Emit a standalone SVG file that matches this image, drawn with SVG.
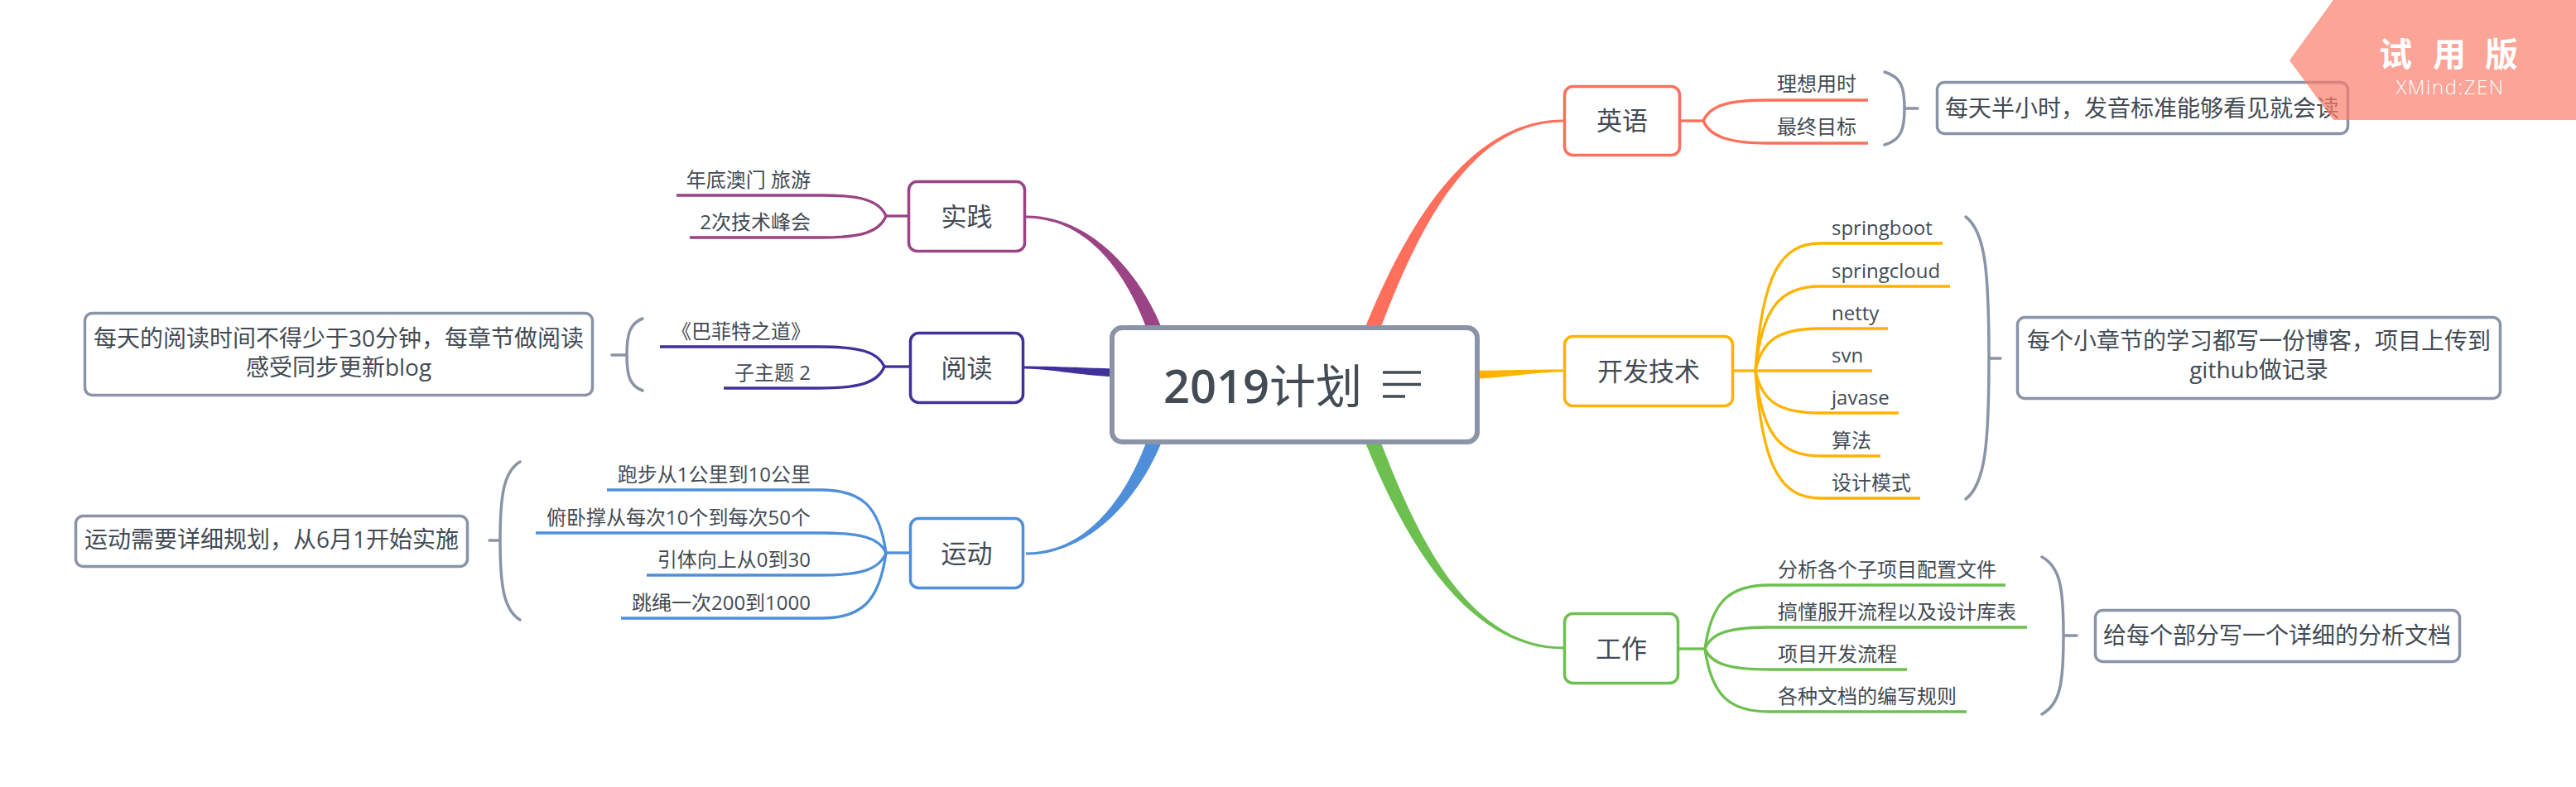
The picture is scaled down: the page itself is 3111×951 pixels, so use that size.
<svg xmlns="http://www.w3.org/2000/svg" width="3111" height="951" viewBox="0 0 3111 951">
<style>
text{font-family:"Open Sans","Noto Sans CJK SC",sans-serif;fill:#434b54}
.c{text-anchor:middle}
.e{text-anchor:end}
.main{font-size:31px}
.sub{font-size:24px}
.sum{font-size:28px}
.box{fill:#fff;stroke-width:3.5}
.sbox{fill:#fff;stroke:#8a94a6;stroke-width:3.5}
.ln{fill:none;stroke-width:3.3;stroke-linecap:butt}
.br{fill:none;stroke:#8a94a6;stroke-width:3.5;stroke-linecap:round}
.red{stroke:#ff6f5b}.redf{fill:#ff6f5b}
.amb{stroke:#ffb300}.ambf{fill:#ffb300}
.grn{stroke:#6dc050}.grnf{fill:#6dc050}
.pur{stroke:#9a4385}.purf{fill:#9a4385}
.ind{stroke:#40319a}.indf{fill:#40319a}
.blu{stroke:#4f8fda}.bluf{fill:#4f8fda}
</style>
<rect width="3111" height="951" fill="#fff"/>
<g id="connectors">
<path class="redf" d="M1653.4,433.2 C1698.4,313.2 1760,147.5 1888,147.5 L1888,144.5 C1760,144.5 1681.6,306.8 1636.6,426.8 Z"/>
<path class="ambf" d="M1770,448 C1820,447.5 1850,446.5 1888,446.5 L1888,449.5 C1850,449.5 1820,457 1770,458 Z"/>
<path class="grnf" d="M1636.6,503.2 C1681.6,623.2 1760,784.5 1888,784.5 L1888,781.5 C1760,781.5 1698.4,616.8 1653.4,496.8 Z"/>
<path class="purf" d="M1413.7,427.6 C1388.7,337.6 1320,260.5 1239,260.5 L1239,263.5 C1320,263.5 1371.3,342.4 1396.3,432.4 Z"/>
<path class="indf" d="M1360,446 C1300,444 1270,442.5 1237,442.5 L1237,445.5 C1270,445.5 1300,454 1360,456 Z"/>
<path class="bluf" d="M1413.7,502.4 C1388.7,592.4 1320,670.5 1239,670.5 L1239,667.5 C1320,667.5 1371.3,587.6 1396.3,497.6 Z"/>
<g class="ln red">
<path d="M2030,146 H2057"/>
<path d="M2057,146 C2065,127.25 2087,121 2135,121 H2256"/>
<path d="M2057,146 C2065,164.75 2087,173 2135,173 H2256"/>
</g>
<g class="ln amb">
<path d="M2094,448 H2120"/>
<path d="M2120,448 C2128,332.5 2150,294 2198,294 H2346"/>
<path d="M2120,448 C2128,371.5 2150,346 2198,346 H2355"/>
<path d="M2120,448 C2128,409.75 2150,397 2198,397 H2280"/>
<path d="M2120,448 H2261"/>
<path d="M2120,448 C2128,486.25 2150,499 2198,499 H2293"/>
<path d="M2120,448 C2128,525.25 2150,551 2198,551 H2271"/>
<path d="M2120,448 C2128,563.5 2150,602 2198,602 H2319"/>
</g>
<g class="ln grn">
<path d="M2028,784 H2059"/>
<path d="M2059,784 C2067,726.25 2089,707 2137,707 H2422"/>
<path d="M2059,784 C2067,764.5 2089,758 2137,758 H2448"/>
<path d="M2059,784 C2067,802.75 2089,809 2137,809 H2303"/>
<path d="M2059,784 C2067,841 2089,860 2137,860 H2375"/>
</g>
<g class="ln pur">
<path d="M1096,261 H1070"/>
<path d="M1070,261 C1062,242.25 1040,236 992,236 H817"/>
<path d="M1070,261 C1062,280.5 1040,287 992,287 H833"/>
</g>
<g class="ln ind">
<path d="M1098,443 H1068"/>
<path d="M1068,443 C1060,425 1038,419 990,419 H797"/>
<path d="M1068,443 C1060,462.5 1038,469 990,469 H874"/>
</g>
<g class="ln blu">
<path d="M1098,668 H1070"/>
<path d="M1070,668 C1062,611 1040,592 992,592 H733"/>
<path d="M1070,668 C1062,650 1040,644 992,644 H647"/>
<path d="M1070,668 C1062,688.25 1040,695 992,695 H781"/>
<path d="M1070,668 C1062,727.25 1040,747 992,747 H750"/>
</g>
<path class="br" d="M2276,87 C2298,93 2300,110 2300,131 C2300,152 2298,169 2276,175 M2300,131 H2316"/>
<path class="br" d="M2374,262 C2398,280 2402,330 2402,433 C2402,534 2398,585 2374,603 M2402,433 H2416"/>
<path class="br" d="M2466,673 C2488,685 2492,710 2492,768 C2492,826 2488,851 2466,863 M2492,768 H2508"/>
<path class="br" d="M776,385 C760,391 757,405 757,429 C757,453 760,466 776,472 M757,429 H739"/>
<path class="br" d="M628,558 C608,570 604,600 604,653 C604,706 608,737 628,749 M604,653 H591"/>
</g>
<g id="central">
<rect x="1343" y="396" width="441" height="138" rx="12" fill="#fff" stroke="#8a94a6" stroke-width="6"/>
<text x="1405" y="487" font-size="56"><tspan font-weight="600">2019</tspan>计划</text>
<path d="M1670,450 H1716 M1670,464.5 H1716 M1670,479 H1697" stroke="#434b54" stroke-width="3.5" fill="none"/>
</g>
<g id="topic-english">
<rect class="box red" x="1889.5" y="104.5" width="139" height="83" rx="10"/>
<text class="main c" x="1959" y="157">英语</text>
</g>
<g id="english-children">
<text class="sub" x="2146" y="110">理想用时</text>
<text class="sub" x="2146" y="162">最终目标</text>
</g>
<g id="summary-english">
<rect class="sbox" x="2339.5" y="99.5" width="496" height="62" rx="9"/>
<text class="sum c" x="2587" y="141">每天半小时，发音标准能够看见就会读</text>
</g>
<g id="topic-dev">
<rect class="box amb" x="1889.5" y="406.5" width="203" height="84" rx="10"/>
<text class="main c" x="1991" y="460">开发技术</text>
</g>
<g id="dev-children">
<text class="sub" x="2212" y="284">springboot</text>
<text class="sub" x="2212" y="336">springcloud</text>
<text class="sub" x="2212" y="387">netty</text>
<text class="sub" x="2212" y="438">svn</text>
<text class="sub" x="2212" y="489">javase</text>
<text class="sub" x="2212" y="541">算法</text>
<text class="sub" x="2212" y="592">设计模式</text>
</g>
<g id="summary-dev">
<rect class="sbox" x="2436.5" y="383.5" width="583" height="98" rx="9"/>
<text class="sum c" x="2728" y="422">每个小章节的学习都写一份博客，项目上传到</text>
<text class="sum c" x="2728" y="457">github做记录</text>
</g>
<g id="topic-work">
<rect class="box grn" x="1889.5" y="741.5" width="137" height="84" rx="10"/>
<text class="main c" x="1958" y="795">工作</text>
</g>
<g id="work-children">
<text class="sub" x="2147" y="697">分析各个子项目配置文件</text>
<text class="sub" x="2147" y="748">搞懂服开流程以及设计库表</text>
<text class="sub" x="2147" y="799">项目开发流程</text>
<text class="sub" x="2147" y="850">各种文档的编写规则</text>
</g>
<g id="summary-work">
<rect class="sbox" x="2530.5" y="737.5" width="440" height="62" rx="9"/>
<text class="sum c" x="2750" y="778">给每个部分写一个详细的分析文档</text>
</g>
<g id="topic-practice">
<rect class="box pur" x="1097.5" y="219.5" width="140" height="84" rx="10"/>
<text class="main c" x="1167.5" y="273">实践</text>
</g>
<g id="practice-children">
<text class="sub e" x="979" y="226">年底澳门 旅游</text>
<text class="sub e" x="979" y="277">2次技术峰会</text>
</g>
<g id="topic-reading">
<rect class="box ind" x="1099.5" y="402.5" width="136" height="84" rx="10"/>
<text class="main c" x="1167.5" y="456">阅读</text>
</g>
<g id="reading-children">
<text class="sub e" x="979" y="409">《巴菲特之道》</text>
<text class="sub e" x="979" y="459">子主题 2</text>
</g>
<g id="summary-reading">
<rect class="sbox" x="102.5" y="378.5" width="613" height="99" rx="9"/>
<text class="sum c" x="409" y="419">每天的阅读时间不得少于30分钟，每章节做阅读</text>
<text class="sum c" x="409" y="454">感受同步更新blog</text>
</g>
<g id="topic-sport">
<rect class="box blu" x="1099.5" y="626.5" width="136" height="84" rx="10"/>
<text class="main c" x="1167.5" y="680">运动</text>
</g>
<g id="sport-children">
<text class="sub e" x="979" y="582">跑步从1公里到10公里</text>
<text class="sub e" x="979" y="634">俯卧撑从每次10个到每次50个</text>
<text class="sub e" x="979" y="685">引体向上从0到30</text>
<text class="sub e" x="979" y="737">跳绳一次200到1000</text>
</g>
<g id="summary-sport">
<rect class="sbox" x="91.5" y="623.5" width="473" height="61" rx="9"/>
<text class="sum c" x="328" y="662">运动需要详细规划，从6月1开始实施</text>
</g>
<g id="watermark">
<polygon points="2818,0 3111,0 3111,145 2818,145 2765,73" fill="#fa7e6b" opacity="0.7"/>
<text class="c" x="2893" y="80" font-size="40" font-weight="bold" style="fill:#fff">试</text>
<text class="c" x="2958" y="80" font-size="40" font-weight="bold" style="fill:#fff">用</text>
<text class="c" x="3021" y="80" font-size="40" font-weight="bold" style="fill:#fff">版</text>
<text class="c" x="2959" y="114" font-size="24" font-weight="300" letter-spacing="1.5" style="fill:#fff">XMind:ZEN</text>
</g>
</svg>
